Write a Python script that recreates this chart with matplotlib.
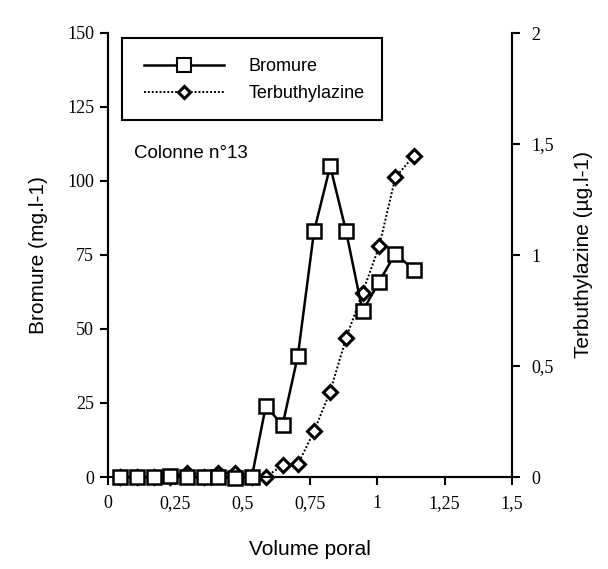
import matplotlib
matplotlib.use("Agg")
import matplotlib.pyplot as plt
from matplotlib.lines import Line2D
from matplotlib.patches import Rectangle

# ---- data ----
volume = [0.045, 0.107, 0.169, 0.231, 0.293, 0.355, 0.41, 0.472, 0.534,
          0.586, 0.648, 0.705, 0.765, 0.825, 0.884, 0.945, 1.007, 1.067, 1.135]
bromure = [0, 0, 0, 0.5, 0, 0, 0, -0.5, 0,
           24, 17.5, 41, 83, 105, 83, 56, 66, 75.5, 70]
terbuthylazine = [0.0, 0.0, 0.0, 0.0, 0.02, 0.0, 0.02, 0.02, 0.0,
                  0.0, 0.053, 0.057, 0.206, 0.385, 0.626, 0.83, 1.04, 1.35, 1.445]

x_ticks = [0, 0.25, 0.5, 0.75, 1, 1.25, 1.5]
x_ticklabels = ["0", "0,25", "0,5", "0,75", "1", "1,25", "1,5"]
yl_ticks = [0, 25, 50, 75, 100, 125, 150]
yl_ticklabels = ["0", "25", "50", "75", "100", "125", "150"]
yr_ticks = [0, 0.5, 1, 1.5, 2]
yr_ticklabels = ["0", "0,5", "1", "1,5", "2"]

serif = "Liberation Serif"
sans = "Liberation Sans"

fig = plt.figure(figsize=(6.08, 5.69), dpi=100)
ax = fig.add_axes([108/608, 1-477/569, 404/608, 444/569])
ax2 = ax.twinx()
ax.set_zorder(ax2.get_zorder() + 1)
ax.patch.set_visible(False)

ax.plot(volume, bromure, color="black", lw=1.8, marker="s", markersize=10.5,
        markerfacecolor="white", markeredgecolor="black", markeredgewidth=1.8,
        clip_on=False, zorder=3)
ax2.plot(volume, terbuthylazine, color="black", lw=1.4, linestyle=(0, (1, 1)),
         marker="D", markersize=7, markerfacecolor="white",
         markeredgecolor="black", markeredgewidth=2.2, clip_on=False, zorder=2)

ax.set_xlim(0, 1.5)
ax.set_ylim(0, 150)
ax2.set_ylim(0, 2)

ax.set_xticks(x_ticks)
ax.set_xticklabels(x_ticklabels, fontfamily=serif, fontsize=13)
ax.set_yticks(yl_ticks)
ax.set_yticklabels(yl_ticklabels, fontfamily=serif, fontsize=13)
ax2.set_yticks(yr_ticks)
ax2.set_yticklabels(yr_ticklabels, fontfamily=serif, fontsize=13)

for a in (ax, ax2):
    for s in a.spines.values():
        s.set_linewidth(1.5)
    a.tick_params(direction="out", length=6, width=1.5, pad=4)
ax.spines["top"].set_visible(False)
ax2.spines["top"].set_visible(False)
ax.tick_params(axis="x", pad=7)
ax2.tick_params(axis="y", pad=8)

ax.set_xlabel("Volume poral", fontfamily=sans, fontsize=15, labelpad=20)
ax.set_ylabel("Bromure (mg.l-1)", fontfamily=sans, fontsize=15, labelpad=14)
ax2.set_ylabel("Terbuthylazine (µg.l-1)", fontfamily=sans, fontsize=15, labelpad=14)

# legend frame
ax.add_patch(Rectangle((14/404, 1-(120-33)/444), 260/404, 82/444,
                       transform=ax.transAxes, fill=False, edgecolor="black",
                       lw=1.5, zorder=5, clip_on=False))
handles = [
    Line2D([], [], color="black", lw=1.8, marker="s", markersize=10,
           markerfacecolor="white", markeredgewidth=1.5),
    Line2D([], [], color="black", lw=1.4, linestyle=(0, (1, 1)), marker="D",
           markersize=6.5, markerfacecolor="white", markeredgewidth=2.2),
]
leg = ax.legend(handles, ["Bromure", "Terbuthylazine"], loc="upper left",
                bbox_to_anchor=(20/404, 1-(42-33)/444), frameon=False,
                prop={"family": sans, "size": 13}, handlelength=4.4,
                handletextpad=1.4, labelspacing=0.55, numpoints=1,
                markerfirst=True)

ax.text(26/404, 1-(153-33)/444, "Colonne n°13", transform=ax.transAxes,
        fontfamily=sans, fontsize=13.5, va="center", ha="left")

fig.savefig("out.png", dpi=100)
